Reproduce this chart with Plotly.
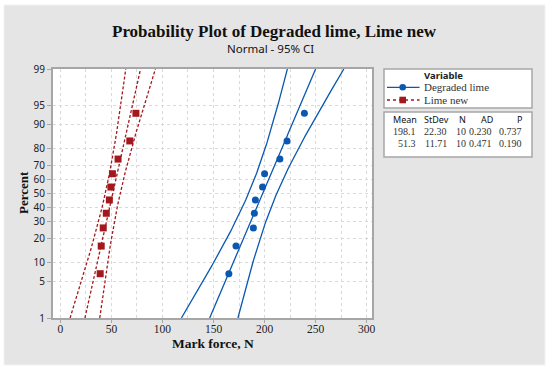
import plotly.graph_objects as go
from statistics import NormalDist
import math

# ---------------- data ----------------
percent_ranks = [6.7, 16.3, 26.0, 35.6, 45.2, 54.8, 64.4, 74.0, 83.7, 93.3]
degraded_lime = [165, 172, 189, 190, 191, 198, 200, 215, 222, 239]
lime_new = [39, 40, 42, 45, 48, 49.5, 51, 56.5, 68, 74]

series_names = ["Degraded lime", "Lime new"]
stat_mean = [198.1, 51.3]
stat_sd = [22.30, 11.71]
stat_n = [10, 10]
stat_ad = [0.230, 0.471]
stat_p = [0.737, 0.190]

y_tick_pct = [1, 5, 10, 20, 30, 40, 50, 60, 70, 80, 90, 95, 99]
x_tick_vals = [0, 50, 100, 150, 200, 250, 300]

# ---------------- helpers ----------------
W, H = 550, 371
L, R, T, B = 53, 372, 69, 318
nd = NormalDist()


def probit(p):
    return nd.inv_cdf(p / 100.0)


def px(x):
    return (x - L) / (R - L)


def py(y):
    return (B - y) / (B - T)


BLUE = "#0a58b0"
RED = "#a3181c"
PANEL = "#e5e5e5"
SERIF = "Liberation Serif"
SANS = "Noto Sans"

fig = go.Figure()

zmin, zmax = probit(1), probit(99)
zgrid = [zmin + (zmax - zmin) * i / 120 for i in range(121)]
zcrit = 1.959964

styles = [
    dict(color=BLUE, dash="solid", symbol="circle"),
    dict(color=RED, dash="3px,2px", symbol="square"),
]
data_sets = [degraded_lime, lime_new]

for k in range(2):
    m, s, n = stat_mean[k], stat_sd[k], stat_n[k]
    st = styles[k]
    fit_x = [m + s * z for z in zgrid]
    se = [s / math.sqrt(n) * math.sqrt(1 + z * z * n / (2 * (n - 1))) for z in zgrid]
    lo_x = [fx - zcrit * e for fx, e in zip(fit_x, se)]
    hi_x = [fx + zcrit * e for fx, e in zip(fit_x, se)]
    for xs in (lo_x, fit_x, hi_x):
        fig.add_trace(go.Scatter(
            x=xs, y=zgrid, mode="lines",
            line=dict(color=st["color"], width=1.3, dash=st["dash"]),
            showlegend=False, hoverinfo="skip"))
    fig.add_trace(go.Scatter(
        x=data_sets[k], y=[probit(p) for p in percent_ranks], mode="markers",
        marker=dict(color=st["color"], size=7, symbol=st["symbol"]),
        name=series_names[k], showlegend=False))

shapes = []
# white outer frame around the gray panel (strips outside the plot area)
for (a0, a1, b0, b1) in [(0, W, 0, 5), (0, W, 365, H), (0, 4, 0, H), (545, W, 0, H)]:
    shapes.append(dict(type="rect", xref="paper", yref="paper", layer="above",
                       x0=px(a0), x1=px(a1), y0=py(b1), y1=py(b0),
                       fillcolor="white", line=dict(width=0)))
shapes.append(dict(type="rect", xref="paper", yref="paper", layer="above",
                   x0=px(4), x1=px(545), y0=py(365), y1=py(5),
                   fillcolor="rgba(0,0,0,0)", line=dict(color="#f2f2f2", width=1)))
# legend box
shapes.append(dict(type="rect", xref="paper", yref="paper",
                   x0=px(384), x1=px(532), y0=py(108), y1=py(69),
                   fillcolor="white", line=dict(color="#a6a6a6", width=1.5)))
# table box
shapes.append(dict(type="rect", xref="paper", yref="paper",
                   x0=px(384), x1=px(532), y0=py(157), y1=py(112),
                   fillcolor="white", line=dict(color="#a6a6a6", width=1.5)))
# legend symbols
leg_y = [87.3, 100]
for k in range(2):
    st = styles[k]
    shapes.append(dict(type="line", xref="paper", yref="paper",
                       x0=px(387), x1=px(419.5), y0=py(leg_y[k]), y1=py(leg_y[k]),
                       line=dict(color=st["color"], width=1.3,
                                 dash="solid" if k == 0 else "dot")))
    r = 3.3
    shapes.append(dict(type="circle" if k == 0 else "rect", xref="paper", yref="paper",
                       x0=px(402.7 - r), x1=px(402.7 + r),
                       y0=py(leg_y[k] + r), y1=py(leg_y[k] - r),
                       fillcolor=st["color"], line=dict(color=st["color"], width=0)))

ann = []
ann.append(dict(text="<b>Probability Plot of Degraded lime, Lime new</b>",
                x=px(274), y=py(31), xref="paper", yref="paper", showarrow=False,
                xanchor="center", yanchor="middle",
                font=dict(family=SERIF, size=17, color="#111")))
ann.append(dict(text="Normal - 95% CI",
                x=px(270), y=py(48.5), xref="paper", yref="paper", showarrow=False,
                xanchor="center", yanchor="middle",
                font=dict(family=SANS, size=11.5, color="#111")))
ann.append(dict(text="<b>Percent</b>", textangle=-90,
                x=px(23), y=py(193), xref="paper", yref="paper", showarrow=False,
                xanchor="center", yanchor="middle",
                font=dict(family=SERIF, size=13, color="#111")))
ann.append(dict(text="<b>Mark force, N</b>",
                x=px(213), y=py(343), xref="paper", yref="paper", showarrow=False,
                xanchor="center", yanchor="middle",
                font=dict(family=SERIF, size=13.5, color="#111")))
# legend texts
ann.append(dict(text="<b>Variable</b>", x=px(422), y=py(75.7), xref="paper", yref="paper",
                showarrow=False, xanchor="left", yanchor="middle",
                font=dict(family=SANS, size=9.5, color="#222")))
for k in range(2):
    ann.append(dict(text=series_names[k], x=px(422), y=py(leg_y[k]), xref="paper",
                    yref="paper", showarrow=False, xanchor="left", yanchor="middle",
                    font=dict(family=SERIF, size=11, color="#333")))
# table
headers = ["Mean", "StDev", "N", "AD", "P"]
head_right = [418, 450, 467, 495, 523]
val_right = [417, 448, 467, 493, 523]
for h, xr in zip(headers, head_right):
    ann.append(dict(text=h, x=px(xr), y=py(119.6), xref="paper", yref="paper",
                    showarrow=False, xanchor="right", yanchor="middle", borderpad=0,
                    font=dict(family=SANS, size=9, color="#111")))
row_y = [131.6, 143.2]
for k in range(2):
    vals = [f"{stat_mean[k]:.1f}", f"{stat_sd[k]:.2f}", f"{stat_n[k]}",
            f"{stat_ad[k]:.3f}", f"{stat_p[k]:.3f}"]
    for v, xr in zip(vals, val_right):
        ann.append(dict(text=v, x=px(xr), y=py(row_y[k]), xref="paper", yref="paper",
                        showarrow=False, xanchor="right", yanchor="middle", borderpad=0,
                        font=dict(family=SERIF, size=10, color="#333")))

fig.update_layout(
    width=W, height=H,
    margin=dict(l=L, r=W - R, t=T, b=H - B, pad=0),
    paper_bgcolor=PANEL, plot_bgcolor="white",
    showlegend=False,
    shapes=shapes, annotations=ann,
)
fig.update_xaxes(
    range=[-7.2, 305.2], tickvals=x_tick_vals, ticktext=[str(v) for v in x_tick_vals],
    showline=True, linecolor="#a6a6a6", linewidth=2, mirror=True,
    ticks="outside", ticklen=3, tickcolor="#a6a6a6", tickwidth=1,
    ticklabelstandoff=-4,
    showgrid=True, gridcolor="#d9d9d9", griddash="dot", gridwidth=1,
    minor=dict(dtick=25, tick0=0, showgrid=True, gridcolor="#d9d9d9", griddash="dot"),
    zeroline=False,
    tickfont=dict(family=SERIF, size=11.5, color="#222"),
)
fig.update_yaxes(
    range=[zmin, zmax], tickvals=[probit(p) for p in y_tick_pct],
    ticktext=[str(p) for p in y_tick_pct],
    showline=True, linecolor="#a6a6a6", linewidth=2, mirror=True,
    ticks="outside", ticklen=4, tickcolor="#a6a6a6", tickwidth=1,
    showgrid=True, gridcolor="#d9d9d9", griddash="dot", gridwidth=1,
    zeroline=False,
    tickfont=dict(family=SANS, size=10, color="#222"),
)

fig.write_html("out.html", config={"displayModeBar": False},
               post_script="document.body.style.margin='0';document.body.style.overflow='hidden';")
